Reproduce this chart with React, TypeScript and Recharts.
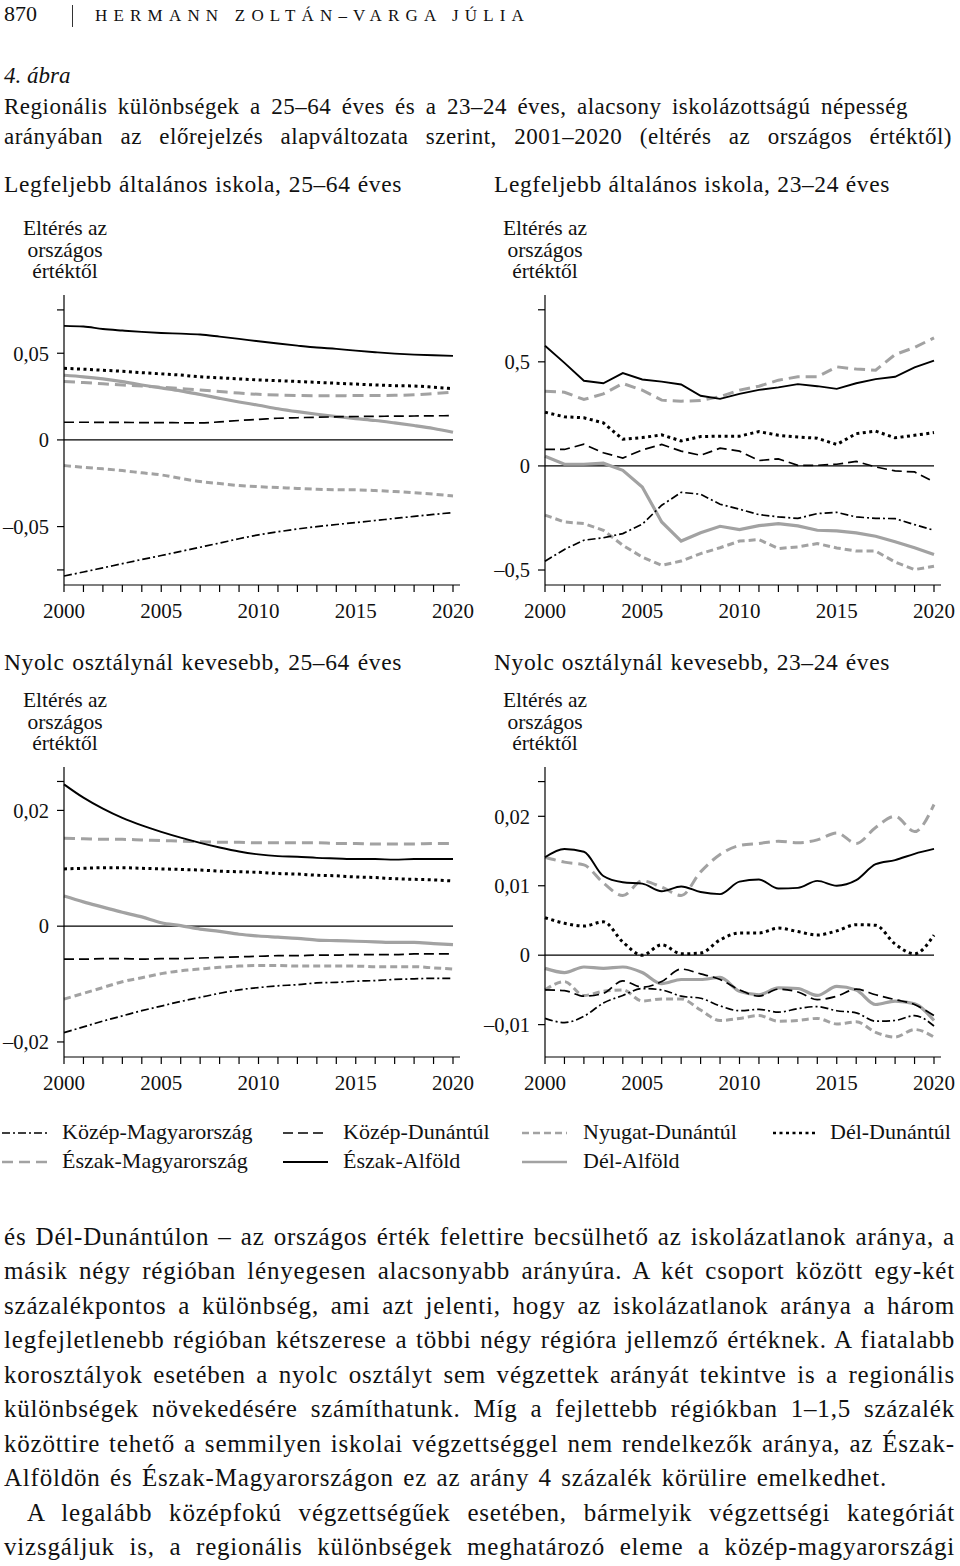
import React from "react";
import { LineChart, Line, XAxis, YAxis, ReferenceLine } from "recharts";

// ---- shared axis data ----
const years = [2000, 2001, 2002, 2003, 2004, 2005, 2006, 2007, 2008, 2009, 2010, 2011, 2012, 2013, 2014, 2015, 2016, 2017, 2018, 2019, 2020];

const regionNames = {
  km: "Közép-Magyarország",
  kd: "Közép-Dunántúl",
  nd: "Nyugat-Dunántúl",
  dd: "Dél-Dunántúl",
  em: "Észak-Magyarország",
  ea: "Észak-Alföld",
  da: "Dél-Alföld",
};

// ---- panel A: Legfeljebb általános iskola, 25–64 éves ----
const aEa = [0.0658, 0.0654, 0.064, 0.0631, 0.0623, 0.0617, 0.0613, 0.0608, 0.0596, 0.0583, 0.0569, 0.0556, 0.0544, 0.0533, 0.0525, 0.0515, 0.0506, 0.0498, 0.0492, 0.0488, 0.0485];
const aDd = [0.0413, 0.0408, 0.0402, 0.0396, 0.0388, 0.0381, 0.0374, 0.0364, 0.0358, 0.0352, 0.0346, 0.0342, 0.0337, 0.0332, 0.0327, 0.0322, 0.0317, 0.0313, 0.0311, 0.0304, 0.0296];
const aEm = [0.0337, 0.0331, 0.0324, 0.0317, 0.0311, 0.0304, 0.0296, 0.0288, 0.0279, 0.027, 0.0263, 0.0259, 0.0256, 0.0255, 0.0255, 0.0256, 0.0256, 0.0257, 0.026, 0.0267, 0.0275];
const aDa = [0.0373, 0.0364, 0.0352, 0.0336, 0.0317, 0.03, 0.0283, 0.0262, 0.024, 0.0219, 0.02, 0.018, 0.0163, 0.0148, 0.0135, 0.0123, 0.0112, 0.0098, 0.0083, 0.0066, 0.0044];
const aKd = [0.0102, 0.0102, 0.0101, 0.0101, 0.01, 0.01, 0.0099, 0.0098, 0.0104, 0.0112, 0.0118, 0.0125, 0.0128, 0.0131, 0.0133, 0.0135, 0.0136, 0.0137, 0.0138, 0.0139, 0.014];
const aNd = [-0.0148, -0.0158, -0.0167, -0.0177, -0.019, -0.0202, -0.0222, -0.024, -0.0252, -0.0263, -0.027, -0.0275, -0.028, -0.0285, -0.0287, -0.0288, -0.0292, -0.0298, -0.0305, -0.0313, -0.0323];
const aKm = [-0.0785, -0.0762, -0.0738, -0.0714, -0.069, -0.0667, -0.0643, -0.0619, -0.0595, -0.057, -0.0548, -0.053, -0.0514, -0.05, -0.0488, -0.0477, -0.0465, -0.0453, -0.0441, -0.043, -0.0419];

// ---- panel B: Legfeljebb általános iskola, 23–24 éves ----
const bEa = [0.577, 0.495, 0.409, 0.397, 0.446, 0.415, 0.405, 0.391, 0.337, 0.322, 0.346, 0.365, 0.377, 0.393, 0.383, 0.37, 0.397, 0.417, 0.428, 0.473, 0.506];
const bEm = [0.359, 0.354, 0.319, 0.346, 0.396, 0.364, 0.316, 0.311, 0.314, 0.333, 0.364, 0.383, 0.412, 0.428, 0.428, 0.476, 0.465, 0.46, 0.535, 0.569, 0.615];
const bDd = [0.258, 0.236, 0.231, 0.207, 0.128, 0.136, 0.149, 0.12, 0.141, 0.143, 0.143, 0.165, 0.147, 0.139, 0.133, 0.103, 0.155, 0.167, 0.135, 0.147, 0.16];
const bKd = [0.079, 0.079, 0.104, 0.063, 0.038, 0.077, 0.103, 0.071, 0.051, 0.085, 0.071, 0.026, 0.034, 0.003, 0.003, 0.008, 0.022, -0.005, -0.024, -0.029, -0.077];
const bDa = [0.046, 0.008, 0.008, 0.013, -0.021, -0.101, -0.269, -0.361, -0.321, -0.29, -0.306, -0.287, -0.277, -0.288, -0.309, -0.312, -0.322, -0.338, -0.364, -0.393, -0.425];
const bKm = [-0.458, -0.401, -0.357, -0.345, -0.325, -0.28, -0.189, -0.127, -0.136, -0.184, -0.208, -0.234, -0.245, -0.252, -0.229, -0.223, -0.245, -0.252, -0.253, -0.282, -0.309];
const bNd = [-0.236, -0.269, -0.277, -0.309, -0.381, -0.438, -0.478, -0.457, -0.421, -0.393, -0.361, -0.354, -0.397, -0.389, -0.373, -0.394, -0.409, -0.409, -0.462, -0.498, -0.482];

// ---- panel C: Nyolc osztálynál kevesebb, 25–64 éves ----
const cEa = [0.0245, 0.0222, 0.0203, 0.0187, 0.0174, 0.0163, 0.0153, 0.0144, 0.0136, 0.0129, 0.0124, 0.0121, 0.012, 0.0118, 0.0117, 0.0116, 0.0116, 0.0115, 0.0116, 0.0116, 0.0116];
const cEm = [0.0152, 0.0151, 0.015, 0.015, 0.0149, 0.0148, 0.0147, 0.0146, 0.0145, 0.0145, 0.0144, 0.0144, 0.0144, 0.0144, 0.0143, 0.0143, 0.0142, 0.0142, 0.0142, 0.0143, 0.0143];
const cDd = [0.0099, 0.01, 0.0101, 0.0101, 0.01, 0.0099, 0.0098, 0.0097, 0.0095, 0.0094, 0.0093, 0.0091, 0.009, 0.0088, 0.0087, 0.0085, 0.0084, 0.0082, 0.0081, 0.008, 0.0078];
const cDa = [0.0052, 0.0042, 0.0033, 0.0024, 0.0016, 0.0006, 0.0001, -0.0005, -0.0009, -0.0014, -0.0017, -0.0019, -0.0021, -0.0024, -0.0025, -0.0026, -0.0027, -0.0028, -0.0028, -0.003, -0.0032];
const cKd = [-0.0057, -0.0057, -0.0056, -0.0056, -0.0057, -0.0056, -0.0056, -0.0055, -0.0054, -0.0053, -0.0052, -0.0051, -0.0051, -0.005, -0.005, -0.0049, -0.0049, -0.0049, -0.0048, -0.0048, -0.0048];
const cNd = [-0.0126, -0.0116, -0.0106, -0.0096, -0.0089, -0.0082, -0.0077, -0.0074, -0.0071, -0.0069, -0.0068, -0.0068, -0.0069, -0.0069, -0.0069, -0.0069, -0.007, -0.007, -0.007, -0.0072, -0.0074];
const cKm = [-0.0184, -0.0174, -0.0164, -0.0155, -0.0146, -0.0138, -0.013, -0.0123, -0.0116, -0.011, -0.0106, -0.0103, -0.0101, -0.0098, -0.0097, -0.0095, -0.0094, -0.0092, -0.0091, -0.009, -0.009];

// ---- panel D: Nyolc osztálynál kevesebb, 23–24 éves ----
const dEa = [0.0141, 0.0153, 0.0149, 0.0114, 0.0105, 0.0103, 0.0092, 0.0099, 0.0091, 0.0088, 0.0106, 0.0109, 0.0096, 0.0097, 0.0107, 0.01, 0.0108, 0.0131, 0.0137, 0.0146, 0.0153];
const dEm = [0.0141, 0.0134, 0.013, 0.0104, 0.0086, 0.0107, 0.0098, 0.0086, 0.012, 0.0145, 0.0158, 0.0161, 0.0164, 0.0162, 0.0166, 0.0176, 0.0161, 0.0184, 0.02, 0.0178, 0.0217];
const dDd = [0.0054, 0.0046, 0.0042, 0.0048, 0.0019, 0.0, 0.0015, 0.0002, 0.0003, 0.0022, 0.0032, 0.0032, 0.0039, 0.0034, 0.0029, 0.0035, 0.0044, 0.0043, 0.0016, 0.0002, 0.0029];
const dDa = [-0.0019, -0.0025, -0.0017, -0.0019, -0.0017, -0.0025, -0.0041, -0.0035, -0.0035, -0.0032, -0.0052, -0.0057, -0.0047, -0.0048, -0.0058, -0.0045, -0.005, -0.0071, -0.0066, -0.007, -0.0094];
const dKd = [-0.005, -0.0051, -0.0059, -0.0055, -0.0037, -0.0046, -0.0038, -0.002, -0.0027, -0.0035, -0.005, -0.0059, -0.0049, -0.0053, -0.0064, -0.0059, -0.0049, -0.0057, -0.0064, -0.0071, -0.0087];
const dKm = [-0.0091, -0.0097, -0.0088, -0.0069, -0.0058, -0.0048, -0.005, -0.0059, -0.0062, -0.0073, -0.008, -0.0078, -0.0082, -0.0077, -0.0074, -0.008, -0.0083, -0.0095, -0.0094, -0.0087, -0.0102];
const dNd = [-0.005, -0.0038, -0.0058, -0.0052, -0.005, -0.0066, -0.0063, -0.0063, -0.0079, -0.0094, -0.0091, -0.0087, -0.0095, -0.0094, -0.0091, -0.0099, -0.0096, -0.0111, -0.0118, -0.0107, -0.0118];

// y ticks (labelled ones are shown, others only get a tick mark)
const aTicks = [-0.075, -0.05, 0, 0.05, 0.075];
const aLabels = [-0.05, 0, 0.05];
const bTicks = [-0.5, 0, 0.5, 0.75];
const bLabels = [-0.5, 0, 0.5];
const cTicks = [-0.02, 0, 0.02, 0.025];
const cLabels = [-0.02, 0, 0.02];
const dTicks = [-0.01, 0, 0.01, 0.02, 0.025];
const dLabels = [-0.01, 0, 0.01, 0.02];

const GRAY = "#a2a2a2";
const FONT = "'Liberation Serif', 'Times New Roman', serif";

// line look per region (drawing order = grey first, black on top)
const looks: Record<string, { stroke: string; w: number; dash?: string }> = {
  em: { stroke: GRAY, w: 3, dash: "11 6" },
  nd: { stroke: GRAY, w: 3, dash: "7 4" },
  da: { stroke: GRAY, w: 3.2 },
  kd: { stroke: "#000", w: 1.7, dash: "10 5" },
  km: { stroke: "#000", w: 1.7, dash: "8 3 2 3" },
  dd: { stroke: "#000", w: 3, dash: "3 3.5" },
  ea: { stroke: "#000", w: 1.9 },
};
const order = ["em", "nd", "da", "kd", "km", "dd", "ea"];

function rowsOf(s: Record<string, number[]>) {
  return years.map((year, i) => {
    const r: Record<string, number> = { year };
    for (const k of Object.keys(s)) r[k] = s[k][i];
    return r;
  });
}

const fmt = (v: number) =>
  v === 0 ? "0" : (v < 0 ? "–" : "") + String(Math.abs(v)).replace(".", ",");

type PanelProps = {
  left: number;
  top: number;
  height: number;
  marginTop: number;
  marginLeft: number;
  marginRight: number;
  rows: Record<string, number>[];
  domain: [number, number];
  ticks: number[];
  labels: number[];
  curve: "monotone" | "linear";
};

function Panel({ left, top, height, marginTop, marginLeft, marginRight, rows, domain, ticks, labels, curve }: PanelProps) {
  return (
    <div style={{ position: "absolute", left, top }}>
      <LineChart
        width={480}
        height={height}
        data={rows}
        margin={{ top: marginTop, right: marginRight, bottom: 25, left: marginLeft }}
      >
        <XAxis
          dataKey="year"
          type="number"
          domain={[2000, 2020]}
          ticks={years}
          interval={0}
          padding={{ left: 0, right: 7 }}
          height={30}
          tickSize={7}
          tickMargin={11}
          stroke="#000"
          strokeWidth={1.2}
          tick={{ fill: "#111", fontSize: 21, fontFamily: FONT }}
          tickFormatter={(v: number) => (v % 5 === 0 ? String(v) : "")}
        />
        <YAxis
          type="number"
          domain={domain}
          allowDataOverflow
          ticks={ticks}
          interval={0}
          width={60}
          tickSize={7}
          tickMargin={8}
          stroke="#000"
          strokeWidth={1.2}
          tick={{ fill: "#111", fontSize: 20.5, fontFamily: FONT }}
          tickFormatter={(v: number) => (labels.includes(v) ? fmt(v) : "")}
        />
        <ReferenceLine
          segment={[{ x: 2000, y: 0 }, { x: 2020, y: 0 }]}
          stroke="#000"
          strokeWidth={1.2}
        />
        {order.map((k) => (
          <Line
            key={k}
            dataKey={k}
            type={curve}
            dot={false}
            activeDot={false}
            isAnimationActive={false}
            stroke={looks[k].stroke}
            strokeWidth={looks[k].w}
            strokeDasharray={looks[k].dash}
          />
        ))}
      </LineChart>
    </div>
  );
}

// single text line, y = vertical centre
function T({ x, y, size, w, children, italic, just, ls, style }: any) {
  return (
    <div
      style={{
        position: "absolute",
        left: x,
        top: y - size / 2 - 1,
        width: w,
        fontSize: size,
        lineHeight: `${size}px`,
        fontStyle: italic ? "italic" : "normal",
        textAlign: just ? "justify" : "left",
        textAlignLast: just ? "justify" : "auto",
        whiteSpace: just ? "normal" : "nowrap",
        letterSpacing: ls,
        ...style,
      }}
    >
      {children}
    </div>
  );
}

function AxisName({ cx, y }: { cx: number; y: number }) {
  return (
    <>
      {["Eltérés az", "országos", "értéktől"].map((s, i) => (
        <T key={s} x={cx - 60} y={y + i * 21.5} size={21.5} w={120} style={{ textAlign: "center" }}>
          {s}
        </T>
      ))}
    </>
  );
}

function Sample({ x, y, k, w = 45 }: { x: number; y: number; k: string; w?: number }) {
  const l = looks[k];
  return (
    <svg style={{ position: "absolute", left: x, top: y - 5 }} width={w} height={10}>
      <line x1={0} y1={5} x2={w} y2={5} stroke={l.stroke} strokeWidth={Math.min(l.w, 2.6)} strokeDasharray={l.dash} />
    </svg>
  );
}

const legendRows = [
  [["km", 2, 62], ["kd", 283, 343], ["nd", 522, 583], ["dd", 773, 830]],
  [["em", 2, 62], ["ea", 283, 343], ["da", 522, 583]],
] as [string, number, number][][];

const bodyLines = [
  "és Dél-Dunántúlon – az országos érték felettire becsülhető az iskolázatlanok aránya, a",
  "másik négy régióban lényegesen alacsonyabb arányúra. A két csoport között egy-két",
  "százalékpontos a különbség, ami azt jelenti, hogy az iskolázatlanok aránya a három",
  "legfejletlenebb régióban kétszerese a többi négy régióra jellemző értéknek. A fiatalabb",
  "korosztályok esetében a nyolc osztályt sem végzettek arányát tekintve is a regionális",
  "különbségek növekedésére számíthatunk. Míg a fejlettebb régiókban 1–1,5 százalék",
  "közöttire tehető a semmilyen iskolai végzettséggel nem rendelkezők aránya, az Észak-",
  "Alföldön és Észak-Magyarországon ez az arány 4 százalék körülire emelkedhet.",
  "A legalább középfokú végzettségűek esetében, bármelyik végzettségi kategóriát",
  "vizsgáljuk is, a regionális különbségek meghatározó eleme a közép-magyarországi",
];
// [left, width] for each body line
const bodyBox = [
  [4, 951], [4, 951], [4, 951], [4, 951], [4, 951], [4, 951], [4, 951], [4, 883], [27, 928], [4, 951],
];

export default function App() {
  const rowsA = rowsOf({ ea: aEa, dd: aDd, em: aEm, da: aDa, kd: aKd, nd: aNd, km: aKm });
  const rowsB = rowsOf({ ea: bEa, dd: bDd, em: bEm, da: bDa, kd: bKd, nd: bNd, km: bKm });
  const rowsC = rowsOf({ ea: cEa, dd: cDd, em: cEm, da: cDa, kd: cKd, nd: cNd, km: cKm });
  const rowsD = rowsOf({ ea: dEa, dd: dDd, em: dEm, da: dDa, kd: dKd, nd: dNd, km: dKm });

  return (
    <div
      style={{
        position: "absolute",
        left: 0,
        top: 0,
        width: 960,
        height: 1566,
        overflow: "hidden",
        background: "#fff",
        color: "#111",
        fontFamily: FONT,
      }}
    >
      {/* running head */}
      <T x={4} y={15} size={22}>870</T>
      <div style={{ position: "absolute", left: 72, top: 5, width: 1, height: 22, background: "#333" }} />
      <T x={95} y={16} size={17} ls={6.2}>HERMANN ZOLTÁN–VARGA JÚLIA</T>

      <T x={4} y={76} size={23} italic>4. ábra</T>
      <T x={4} y={107} size={23} w={904} just ls={0.5}>
        Regionális különbségek a 25–64 éves és a 23–24 éves, alacsony iskolázottságú népesség
      </T>
      <T x={4} y={137} size={23} w={948} just ls={0.5}>
        arányában az előrejelzés alapváltozata szerint, 2001–2020 (eltérés az országos értéktől)
      </T>

      {/* panel titles */}
      <T x={4} y={186} size={23.5} w={398} just ls={0.6}>Legfeljebb általános iskola, 25–64 éves</T>
      <T x={494} y={186} size={23.5} w={396} just ls={0.6}>Legfeljebb általános iskola, 23–24 éves</T>
      <T x={4} y={664} size={23.5} w={398} just ls={0.6}>Nyolc osztálynál kevesebb, 25–64 éves</T>
      <T x={494} y={664} size={23.5} w={396} just ls={0.6}>Nyolc osztálynál kevesebb, 23–24 éves</T>

      <AxisName cx={65} y={230} />
      <AxisName cx={545} y={230} />
      <AxisName cx={65} y={702} />
      <AxisName cx={545} y={702} />

      <Panel left={0} top={280} height={360} marginTop={15} marginLeft={4} marginRight={20}
        rows={rowsA} domain={[-0.0837, 0.0836]} ticks={aTicks} labels={aLabels} curve="monotone" />
      <Panel left={480} top={280} height={360} marginTop={15} marginLeft={5} marginRight={19}
        rows={rowsB} domain={[-0.572, 0.821]} ticks={bTicks} labels={bLabels} curve="linear" />
      <Panel left={0} top={751} height={361} marginTop={16} marginLeft={4} marginRight={20}
        rows={rowsC} domain={[-0.0226, 0.0275]} ticks={cTicks} labels={cLabels} curve="monotone" />
      <Panel left={480} top={751} height={361} marginTop={16} marginLeft={5} marginRight={19}
        rows={rowsD} domain={[-0.01466, 0.0271]} ticks={dTicks} labels={dLabels} curve="monotone" />

      {/* legend */}
      {legendRows.map((row, ri) =>
        row.map(([k, sx, tx]) => (
          <React.Fragment key={k}>
            <Sample x={sx} y={1133 + ri * 29} k={k} />
            <T x={tx} y={1133 + ri * 29} size={22}>{(regionNames as any)[k]}</T>
          </React.Fragment>
        ))
      )}

      {/* body text */}
      {bodyLines.map((s, i) => (
        <T key={i} x={bodyBox[i][0]} y={1237 + i * 34.5} size={25} w={bodyBox[i][1]} just ls={0.8}>
          {s}
        </T>
      ))}
    </div>
  );
}
